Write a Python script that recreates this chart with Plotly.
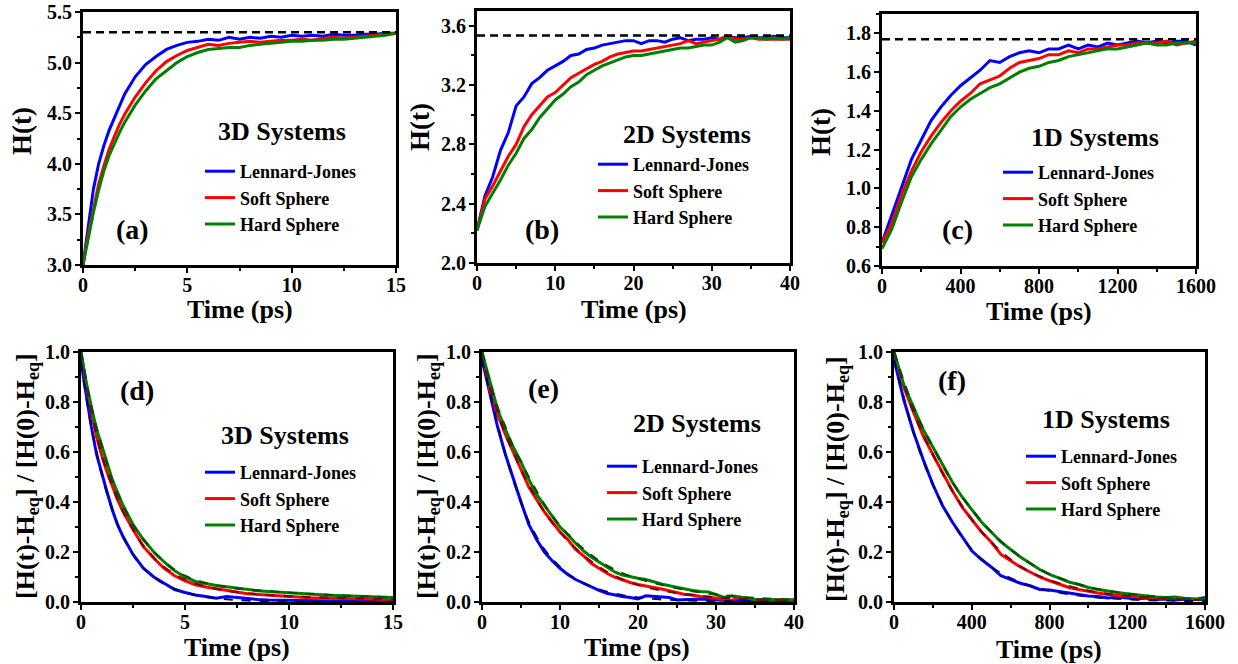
import plotly.graph_objects as go

W, H = 1238, 664
FONT = "Liberation Serif"

# ---------------- data ----------------
series_names = ["Lennard-Jones", "Soft Sphere", "Hard Sphere"]
colors = ["#0000FF", "#FF0000", "#008000"]
fit_colors = ["#000080", "#800000", "#005000"]

# (a) 3D H(t)
t_a = [0, 0.25, 0.5, 0.75, 1, 1.25, 1.5, 1.75, 2, 2.5, 3, 3.5, 4, 4.5, 5, 5.5, 6, 6.5, 7, 7.5,
       8, 8.5, 9, 9.5, 10, 10.5, 11, 11.5, 12, 12.5, 13, 13.5, 14, 14.5, 15]
a_lj = [3.0, 3.40, 3.75, 4.00, 4.18, 4.33, 4.45, 4.58, 4.69, 4.86, 4.98, 5.06, 5.13, 5.17, 5.20, 5.21,
        5.23, 5.22, 5.25, 5.23, 5.25, 5.24, 5.26, 5.25, 5.27, 5.26, 5.27, 5.26, 5.28, 5.27, 5.27, 5.28,
        5.28, 5.29, 5.29]
a_ss = [3.0, 3.30, 3.55, 3.80, 3.98, 4.14, 4.27, 4.39, 4.49, 4.66, 4.80, 4.92, 5.01, 5.07, 5.12, 5.15,
        5.18, 5.17, 5.19, 5.20, 5.21, 5.20, 5.21, 5.22, 5.22, 5.23, 5.22, 5.24, 5.25, 5.24, 5.25, 5.26,
        5.27, 5.28, 5.29]
a_hs = [3.0, 3.28, 3.52, 3.74, 3.93, 4.08, 4.20, 4.31, 4.41, 4.58, 4.72, 4.84, 4.92, 5.00, 5.06, 5.10,
        5.13, 5.14, 5.15, 5.15, 5.17, 5.18, 5.19, 5.20, 5.21, 5.21, 5.22, 5.22, 5.23, 5.23, 5.24, 5.25,
        5.26, 5.27, 5.29]
a_eq = [5.30, 5.30]
a_eq_t = [0, 15]

# (b) 2D H(t)
t_b = list(range(0, 41))
b_lj = [2.22, 2.45, 2.58, 2.76, 2.88, 3.06, 3.12, 3.21, 3.25, 3.30, 3.33, 3.36, 3.40, 3.41, 3.44, 3.45,
        3.47, 3.48, 3.49, 3.50, 3.50, 3.48, 3.50, 3.50, 3.49, 3.51, 3.52, 3.50, 3.51, 3.51, 3.52, 3.51,
        3.53, 3.52, 3.52, 3.53, 3.52, 3.52, 3.53, 3.52, 3.52]
b_ss = [2.22, 2.43, 2.52, 2.62, 2.72, 2.80, 2.92, 3.00, 3.06, 3.12, 3.15, 3.20, 3.25, 3.28, 3.31, 3.34,
        3.36, 3.39, 3.41, 3.42, 3.43, 3.43, 3.44, 3.45, 3.46, 3.47, 3.48, 3.50, 3.48, 3.49, 3.50, 3.51,
        3.53, 3.51, 3.51, 3.52, 3.51, 3.51, 3.51, 3.51, 3.51]
b_hs = [2.22, 2.38, 2.47, 2.56, 2.66, 2.74, 2.84, 2.90, 2.98, 3.04, 3.10, 3.14, 3.19, 3.22, 3.27, 3.30,
        3.33, 3.35, 3.37, 3.39, 3.40, 3.40, 3.41, 3.42, 3.43, 3.44, 3.45, 3.45, 3.46, 3.47, 3.47, 3.49,
        3.52, 3.49, 3.50, 3.52, 3.52, 3.51, 3.52, 3.51, 3.52]
b_eq = [3.535, 3.535]
b_eq_t = [0, 40]

# (c) 1D H(t)
t_c = list(range(0, 1601, 50))
c_lj = [0.72, 0.86, 1.01, 1.15, 1.25, 1.35, 1.42, 1.48, 1.53, 1.57, 1.61, 1.66, 1.65, 1.68, 1.70, 1.71,
        1.70, 1.72, 1.72, 1.74, 1.72, 1.74, 1.73, 1.75, 1.74, 1.75, 1.76, 1.75, 1.76, 1.75, 1.76, 1.76, 1.74]
c_ss = [0.72, 0.82, 0.97, 1.09, 1.19, 1.27, 1.34, 1.40, 1.45, 1.49, 1.54, 1.56, 1.58, 1.62, 1.65, 1.66,
        1.67, 1.69, 1.69, 1.71, 1.70, 1.72, 1.72, 1.73, 1.74, 1.74, 1.75, 1.75, 1.75, 1.76, 1.74, 1.75, 1.76]
c_hs = [0.69, 0.79, 0.93, 1.06, 1.15, 1.23, 1.30, 1.37, 1.42, 1.46, 1.49, 1.52, 1.54, 1.57, 1.60, 1.62,
        1.63, 1.65, 1.66, 1.68, 1.69, 1.70, 1.71, 1.72, 1.72, 1.73, 1.74, 1.75, 1.74, 1.74, 1.75, 1.75, 1.75]
c_eq = [1.77, 1.77]
c_eq_t = [0, 1600]

# (d) 3D normalized
t_d = [0, 0.25, 0.5, 0.75, 1, 1.25, 1.5, 1.75, 2, 2.5, 3, 3.5, 4, 4.5, 5, 5.5, 6, 6.5, 7, 7.5,
       8, 8.5, 9, 9.5, 10, 11, 12, 13, 14, 15]
d_lj = [0.96, 0.82, 0.70, 0.59, 0.51, 0.44, 0.37, 0.31, 0.265, 0.19, 0.135, 0.10, 0.075, 0.05, 0.038,
        0.028, 0.022, 0.015, 0.022, 0.018, 0.012, 0.010, 0.008, 0.007, 0.006, 0.005, 0.004, 0.003, 0.002, 0.002]
d_ss = [1.0, 0.87, 0.76, 0.66, 0.585, 0.52, 0.465, 0.41, 0.365, 0.29, 0.222, 0.175, 0.135, 0.105, 0.085,
        0.069, 0.06, 0.053, 0.045, 0.038, 0.033, 0.03, 0.027, 0.023, 0.02, 0.017, 0.015, 0.013, 0.012, 0.01]
d_hs = [1.0, 0.88, 0.78, 0.69, 0.625, 0.56, 0.49, 0.44, 0.39, 0.31, 0.25, 0.20, 0.16, 0.125, 0.10,
        0.082, 0.073, 0.066, 0.061, 0.055, 0.049, 0.045, 0.042, 0.039, 0.036, 0.03, 0.027, 0.024, 0.021, 0.018]
t_d_fit = [0, 0.5, 1, 1.5, 2, 2.5, 3, 4, 5, 6, 7, 8, 10, 12, 15]
d_lj_fit = [0.96, 0.70, 0.51, 0.37, 0.265, 0.19, 0.135, 0.072, 0.038, 0.02, 0.011, 0.006, 0.002, 0.001, 0.0005]
d_ss_fit = [1.0, 0.76, 0.585, 0.465, 0.365, 0.29, 0.225, 0.14, 0.09, 0.062, 0.045, 0.035, 0.023, 0.017, 0.012]
d_hs_fit = [1.0, 0.78, 0.625, 0.49, 0.39, 0.31, 0.25, 0.16, 0.105, 0.076, 0.06, 0.05, 0.037, 0.028, 0.018]

# (e) 2D normalized
t_e = list(range(0, 41))
e_lj = [0.97, 0.84, 0.70, 0.59, 0.49, 0.40, 0.31, 0.25, 0.20, 0.165, 0.135, 0.11, 0.09, 0.075, 0.06,
        0.047, 0.035, 0.028, 0.022, 0.018, 0.012, 0.025, 0.022, 0.02, 0.018, 0.008, 0.01, 0.013, 0.012,
        0.01, 0.008, 0.006, 0.005, 0.006, 0.004, 0.004, 0.003, 0.004, 0.003, 0.004, 0.005]
e_ss = [1.0, 0.85, 0.75, 0.67, 0.60, 0.53, 0.46, 0.41, 0.36, 0.32, 0.28, 0.25, 0.21, 0.185, 0.155,
        0.135, 0.115, 0.10, 0.088, 0.078, 0.07, 0.065, 0.058, 0.052, 0.045, 0.038, 0.03, 0.028, 0.022,
        0.02, 0.015, 0.01, 0.006, 0.02, 0.014, 0.01, 0.01, 0.009, 0.01, 0.008, 0.008]
e_hs = [1.0, 0.88, 0.77, 0.69, 0.62, 0.56, 0.49, 0.43, 0.385, 0.34, 0.30, 0.27, 0.235, 0.205, 0.18,
        0.16, 0.14, 0.12, 0.108, 0.10, 0.095, 0.09, 0.08, 0.072, 0.065, 0.058, 0.052, 0.046, 0.042,
        0.04, 0.03, 0.018, 0.025, 0.02, 0.012, 0.01, 0.01, 0.011, 0.009, 0.009, 0.008]
t_e_fit = [0, 1, 2, 3, 4, 5, 6, 8, 10, 12, 15, 18, 21, 25, 30, 35, 40]
e_lj_fit = [0.97, 0.84, 0.71, 0.59, 0.49, 0.40, 0.32, 0.21, 0.14, 0.092, 0.05, 0.027, 0.015, 0.008, 0.004, 0.002, 0.001]
e_ss_fit = [1.0, 0.86, 0.76, 0.67, 0.60, 0.53, 0.47, 0.36, 0.28, 0.215, 0.14, 0.09, 0.06, 0.036, 0.018, 0.01, 0.006]
e_hs_fit = [1.0, 0.88, 0.78, 0.70, 0.62, 0.56, 0.50, 0.39, 0.305, 0.24, 0.165, 0.115, 0.085, 0.055, 0.03, 0.016, 0.009]

# (f) 1D normalized
t_f = list(range(0, 1601, 50))
f_lj = [0.97, 0.81, 0.68, 0.57, 0.47, 0.385, 0.32, 0.26, 0.205, 0.17, 0.14, 0.105, 0.09, 0.075, 0.065,
        0.05, 0.048, 0.042, 0.033, 0.03, 0.024, 0.022, 0.016, 0.02, 0.015, 0.012, 0.016, 0.01, 0.012,
        0.008, 0.012, 0.01, 0.018]
f_ss = [1.0, 0.86, 0.76, 0.665, 0.59, 0.515, 0.445, 0.38, 0.33, 0.28, 0.24, 0.19, 0.165, 0.14, 0.12,
        0.10, 0.085, 0.07, 0.058, 0.05, 0.042, 0.036, 0.03, 0.026, 0.023, 0.02, 0.016, 0.015, 0.012,
        0.016, 0.012, 0.01, 0.012]
f_hs = [1.0, 0.87, 0.78, 0.69, 0.62, 0.55, 0.48, 0.42, 0.37, 0.32, 0.28, 0.24, 0.21, 0.18, 0.155,
        0.13, 0.11, 0.095, 0.08, 0.07, 0.058, 0.05, 0.043, 0.038, 0.033, 0.028, 0.024, 0.02, 0.018,
        0.02, 0.014, 0.012, 0.01]
t_f_fit = [0, 100, 200, 300, 400, 500, 600, 700, 800, 1000, 1200, 1400, 1600]
f_lj_fit = [0.97, 0.68, 0.47, 0.32, 0.21, 0.14, 0.095, 0.065, 0.045, 0.022, 0.011, 0.006, 0.003]
f_ss_fit = [1.0, 0.76, 0.59, 0.445, 0.33, 0.24, 0.17, 0.12, 0.088, 0.045, 0.024, 0.013, 0.007]
f_hs_fit = [1.0, 0.78, 0.62, 0.48, 0.37, 0.28, 0.21, 0.155, 0.112, 0.06, 0.033, 0.018, 0.01]

panel_labels = ["(a)", "(b)", "(c)", "(d)", "(e)", "(f)"]
system_labels = ["3D Systems", "2D Systems", "1D Systems", "3D Systems", "2D Systems", "1D Systems"]

# ---------------- layout geometry (pixels) ----------------
def px(x):
    return x / W

def py(y):
    return 1 - y / H

# l, r, top, bottom
boxes = [
    (83, 396, 12, 265),
    (477, 790, 11, 263),
    (882, 1196, 14, 266),
    (81, 393, 352, 602),
    (482, 794, 352, 602),
    (894, 1205, 352, 602),
]

x_ranges = [[0, 15], [0, 40], [0, 1600], [0, 15], [0, 40], [0, 1600]]
x_dtick = [5, 10, 400, 5, 10, 400]
y_ranges = [[3.0, 5.5], [2.0, 3.7], [0.6, 1.9], [0, 1], [0, 1], [0, 1]]
y_dtick = [0.5, 0.4, 0.2, 0.2, 0.2, 0.2]

fig = go.Figure()

data_sets = [
    (t_a, [a_lj, a_ss, a_hs], None, None, (a_eq_t, a_eq)),
    (t_b, [b_lj, b_ss, b_hs], None, None, (b_eq_t, b_eq)),
    (t_c, [c_lj, c_ss, c_hs], None, None, (c_eq_t, c_eq)),
    (t_d, [d_lj, d_ss, d_hs], t_d_fit, [d_lj_fit, d_ss_fit, d_hs_fit], None),
    (t_e, [e_lj, e_ss, e_hs], t_e_fit, [e_lj_fit, e_ss_fit, e_hs_fit], None),
    (t_f, [f_lj, f_ss, f_hs], t_f_fit, [f_lj_fit, f_ss_fit, f_hs_fit], None),
]

for i, (tt, ys, tfit, yfits, eq) in enumerate(data_sets):
    k = i + 1
    xa = "x" if k == 1 else f"x{k}"
    ya = "y" if k == 1 else f"y{k}"
    leg = "legend" if k == 1 else f"legend{k}"
    for j in range(3):
        fig.add_trace(go.Scatter(x=tt, y=ys[j], mode="lines", name=series_names[j],
                                 line=dict(color=colors[j], width=3),
                                 xaxis=xa, yaxis=ya, legend=leg))
    if tfit is not None:
        for j in range(3):
            fig.add_trace(go.Scatter(x=tfit, y=yfits[j], mode="lines", showlegend=False,
                                     line=dict(color=fit_colors[j], width=2.2, dash="dash", shape="spline"),
                                     xaxis=xa, yaxis=ya))
    if eq is not None:
        fig.add_trace(go.Scatter(x=eq[0], y=eq[1], mode="lines", showlegend=False,
                                 line=dict(color="black", width=2.6, dash="8px,5px"),
                                 xaxis=xa, yaxis=ya))

tickfont = dict(family=FONT, size=20, color="black", weight="bold")
layout = dict(
    width=W, height=H, margin=dict(l=0, r=0, t=0, b=0),
    paper_bgcolor="white", plot_bgcolor="white", showlegend=True,
    font=dict(family=FONT, color="black"),
)

for i, (l, r, t, b) in enumerate(boxes):
    k = i + 1
    xk = "xaxis" if k == 1 else f"xaxis{k}"
    yk = "yaxis" if k == 1 else f"yaxis{k}"
    xa = "x" if k == 1 else f"x{k}"
    ya = "y" if k == 1 else f"y{k}"
    common = dict(showline=True, linewidth=3, linecolor="black", mirror=True,
                  ticks="outside", ticklen=5, tickwidth=2, tickcolor="black",
                  showgrid=False, zeroline=False, tickfont=tickfont, automargin=False,
                  fixedrange=True)
    layout[xk] = dict(common, domain=[px(l), px(r)], range=x_ranges[i], dtick=x_dtick[i], tick0=0,
                      anchor=ya, ticklabelstandoff=-5,
                      minor=dict(ticks="outside", ticklen=3, tickwidth=2, tickcolor="black",
                                 dtick=x_dtick[i] / 2, showgrid=False))
    layout[yk] = dict(common, domain=[py(b), py(t)], range=y_ranges[i], dtick=y_dtick[i],
                      tick0=y_ranges[i][0], tickformat=".1f", anchor=xa, ticklabelstandoff=-1,
                      minor=dict(ticks="outside", ticklen=3, tickwidth=2, tickcolor="black",
                                 dtick=y_dtick[i] / 2, showgrid=False))

# legends (left edge / top edge in pixels)
legend_pos = [(200, 153), (593, 146), (998, 154), (200, 454), (602, 448), (1021, 438)]
for i, (lx, ly) in enumerate(legend_pos):
    k = i + 1
    lk = "legend" if k == 1 else f"legend{k}"
    layout[lk] = dict(x=px(lx), y=py(ly), xanchor="left", yanchor="top",
                      bgcolor="rgba(0,0,0,0)", borderwidth=0,
                      font=dict(family=FONT, size=18, color="black", weight="bold"),
                      tracegroupgap=0, itemwidth=30)

fig.update_layout(**layout)

# annotations: panel labels, system labels, axis titles
ann = []
label_pos = [(132, 230), (542, 230), (957, 230), (137, 390), (543, 388), (952, 380)]
sys_pos = [(282, 131), (687, 135), (1095, 137), (285, 435), (697, 424), (1106, 419)]
for i in range(6):
    ann.append(dict(x=px(label_pos[i][0]), y=py(label_pos[i][1]), xref="paper", yref="paper",
                    text=panel_labels[i], showarrow=False, xanchor="center", yanchor="middle",
                    font=dict(family=FONT, size=28, color="black", weight="bold")))
    ann.append(dict(x=px(sys_pos[i][0]), y=py(sys_pos[i][1]), xref="paper", yref="paper",
                    text=system_labels[i], showarrow=False, xanchor="center", yanchor="middle",
                    font=dict(family=FONT, size=26, color="black", weight="bold")))

xtitle_pos = [(240, 309), (634, 309), (1039, 311), (237, 647), (637, 647), (1049, 649)]
ytitle_pos = [(22, 131), (420, 127), (821, 132), (27, 476), (428, 476), (837, 479)]
ytitles = ["H(t)", "H(t)", "H(t)",
           "[H(t)-H<sub>eq</sub>] / [H(0)-H<sub>eq</sub>]",
           "[H(t)-H<sub>eq</sub>] / [H(0)-H<sub>eq</sub>]",
           "[H(t)-H<sub>eq</sub>] / [H(0)-H<sub>eq</sub>]"]
for i in range(6):
    ann.append(dict(x=px(xtitle_pos[i][0]), y=py(xtitle_pos[i][1]), xref="paper", yref="paper",
                    text="Time (ps)", showarrow=False, xanchor="center", yanchor="middle",
                    font=dict(family=FONT, size=26, color="black", weight="bold")))
    ann.append(dict(x=px(ytitle_pos[i][0]), y=py(ytitle_pos[i][1]), xref="paper", yref="paper",
                    text=ytitles[i], showarrow=False, xanchor="center", yanchor="middle", textangle=-90,
                    font=dict(family=FONT, size=27 if i < 3 else 26, color="black", weight="bold")))

fig.update_layout(annotations=ann)
fig.write_html("out.html")
